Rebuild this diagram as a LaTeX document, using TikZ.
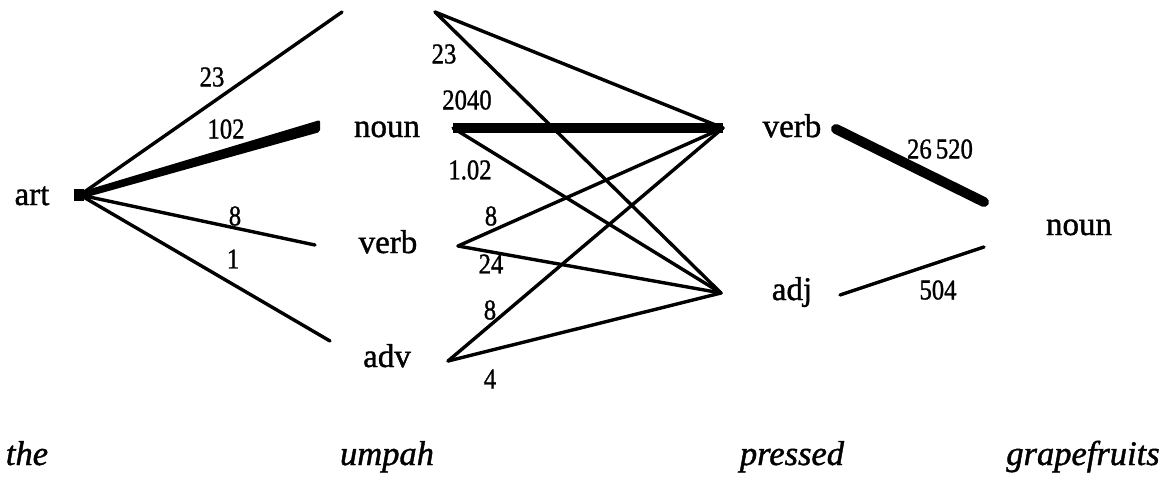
\documentclass[tikz,border=0pt]{standalone}
\usepackage{fontspec}
\setmainfont{Liberation Serif}[FakeBold=1.2]
\usetikzlibrary{calc}
\begin{document}
\begin{tikzpicture}[x=1pt,y=-1pt,
  word/.style={anchor=base,inner sep=0pt,font=\fontsize{33}{36}\selectfont},
  tok/.style={anchor=base,inner sep=0pt,font=\fontsize{34.5}{36}\selectfont\itshape},
  num/.style={inner sep=0pt,font=\fontsize{26}{28}\selectfont,yscale=1.1,xscale=0.95},
  link/.style={line width=3.4pt,line cap=round},
  heavy/.style={line width=10pt}]
\useasboundingbox (0,0) rectangle (1168,480);
% words
\node[word] (art) at (32,205) {art};
\node[word] (n1) at (387,137) {noun};
\node[word] (v1) at (388,253) {verb};
\node[word] (a1) at (387,367) {adv};
\node[word] (v2) at (792,137) {verb};
\node[word] (j2) at (792,300) {adj};
\node[word] (n3) at (1079,235) {noun};
\node[tok] (w1) at (27,465) {the};
\node[tok] (w2) at (387,465) {umpah};
\node[tok] (w3) at (792,465) {pressed};
\node[tok] (w4) at (1083,465) {grapefruits};
% port coordinates
\coordinate (artR) at (80,195);
\coordinate (tL) at (342,12);
\coordinate (n1L) at (320,126);
\coordinate (v1L) at (315,245);
\coordinate (a1L) at (330,341);
\coordinate (tR) at (435,12);
\coordinate (n1R) at (453,128);
\coordinate (v1R) at (458,246);
\coordinate (a1R) at (448,361);
\coordinate (v2L) at (723,128);
\coordinate (j2L) at (721,293);
\coordinate (v2R) at (836,129);
\coordinate (n3La) at (984,202);
\coordinate (n3Lb) at (984,247);
\coordinate (j2R) at (840,295);
% art edges
\fill (74,189) rectangle (84,201);
\draw[link] (artR) -- (tL);
\fill[rounded corners=2pt] ($(artR)+(0,-3)$) -- ($(n1L)+(0,-6)$) -- ($(n1L)+(0,6)$) -- ($(artR)+(0,4)$) -- cycle;
\draw[link] (artR) -- (v1L);
\draw[link] (artR) -- (a1L);
% umpah -> pressed
\draw[link] (tR) -- (v2L);
\draw[link] (tR) -- (j2L);
\draw[heavy] (n1R) -- (v2L);
\draw[link] (n1R) -- (j2L);
\draw[link] (v1R) -- (v2L);
\draw[link] (v1R) -- (j2L);
\draw[link] (a1R) -- (v2L);
\draw[link] (a1R) -- (j2L);
% pressed -> grapefruits
\draw[heavy,line cap=round] (v2R) -- (n3La);
\draw[link] (j2R) -- (n3Lb);
% labels
\node[num] (l1) at (212,77) {23};
\node[num] (l2) at (226,129) {102};
\node[num] (l3) at (235,216) {8};
\node[num] (l4) at (233,259) {1};
\node[num] (l5) at (444,54) {23};
\node[num] (l6) at (467,100) {2040};
\node[num] (l7) at (470,170) {1.02};
\node[num] (l8) at (491,216) {8};
\node[num] (l9) at (491,264) {24};
\node[num] (l10) at (490,310) {8};
\node[num] (l11) at (490,379) {4};
\node[num] (l12) at (940,149) {26\,520};
\node[num] (l13) at (938,290) {504};
\end{tikzpicture}
\end{document}
